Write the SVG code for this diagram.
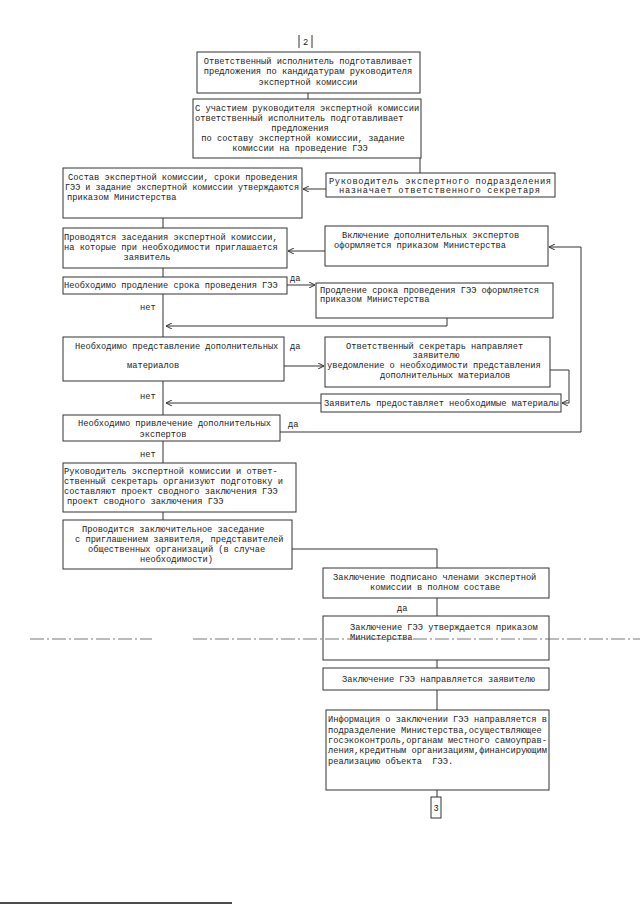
<svg xmlns="http://www.w3.org/2000/svg" width="640" height="905" viewBox="0 0 640 905">
<style>
  .box{fill:#fff;stroke:#333;stroke-width:1}
  .t{font-family:"Liberation Mono","DejaVu Sans Mono",monospace;font-size:8.7px;fill:#222}
  .c{text-anchor:middle}
  .ln{fill:none;stroke:#333;stroke-width:1}
  .dd{fill:none;stroke:#555;stroke-width:0.8;stroke-dasharray:14,3,2,3}
</style>
<defs>
  <marker id="ah" viewBox="0 0 6 6" refX="6" refY="3" markerWidth="6" markerHeight="6" markerUnits="userSpaceOnUse" orient="auto">
    <path d="M0,0 L6,3 L0,6" fill="none" stroke="#333" stroke-width="1"/>
  </marker>
</defs>
<rect width="640" height="905" fill="#fff"/>

<g id="connectors">
  <path class="ln" d="M308,93 V99"/>
  <path class="ln" d="M420,158 V173"/>
  <path class="ln" d="M326,189 H303" marker-end="url(#ah)"/>
  <path class="ln" d="M163,218 V228"/>
  <path class="ln" d="M325,251 H288" marker-end="url(#ah)"/>
  <path class="ln" d="M163,268 V277"/>
  <path class="ln" d="M287,285 H315" marker-end="url(#ah)"/>
  <path class="ln" d="M163,294 V337"/>
  <path class="ln" d="M447,318 V326 H166" marker-end="url(#ah)"/>
  <path class="ln" d="M284,366 H324" marker-end="url(#ah)"/>
  <path class="ln" d="M163,381 V415"/>
  <path class="ln" d="M550,370 H569 V403 H562" marker-end="url(#ah)"/>
  <path class="ln" d="M321,403 H166" marker-end="url(#ah)"/>
  <path class="ln" d="M280,432 H581 V247 H549" marker-end="url(#ah)"/>
  <path class="ln" d="M163,441 V463"/>
  <path class="ln" d="M163,512 V520"/>
  <path class="ln" d="M292,549 H437 V568"/>
  <path class="ln" d="M437,598 V616"/>
  <path class="ln" d="M437,660 V668"/>
  <path class="ln" d="M437,690 V710"/>
  <path class="ln" d="M437,790 V797"/>
  <text class="t" x="290" y="281">да</text>
  <text class="t" x="140" y="310">нет</text>
  <text class="t" x="290" y="349">да</text>
  <text class="t" x="140" y="399">нет</text>
  <text class="t" x="288" y="427">да</text>
  <text class="t" x="140" y="457">нет</text>
  <text class="t" x="397" y="611">да</text>
</g>

<g id="page2">
  <path class="ln" d="M299,35 V48 M312,35 V48"/>
  <text class="t c" x="305.5" y="45">2</text>
</g>

<g id="n1">
  <rect class="box" x="197" y="52" width="223" height="41"/>
  <text class="t c" x="308" y="64">Ответственный исполнитель подготавливает</text>
  <text class="t c" x="308" y="74">предложения по кандидатурам руководителя</text>
  <text class="t c" x="308" y="85">экспертной комиссии</text>
</g>

<g id="n2">
  <rect class="box" x="193" y="99" width="228" height="59"/>
  <text class="t" x="195" y="111">С участием руководителя экспертной комиссии</text>
  <text class="t" x="195" y="121">ответственный исполнитель подготавливает</text>
  <text class="t c" x="300" y="131">предложения</text>
  <text class="t c" x="303" y="141">по составу экспертной комиссии, задание</text>
  <text class="t c" x="300" y="151">комиссии на проведение ГЭЭ</text>
</g>

<g id="n3">
  <rect class="box" x="63" y="168" width="239" height="50"/>
  <text class="t" x="68" y="180">Состав экспертной комиссии, сроки проведения</text>
  <text class="t" x="65" y="190" textLength="234" lengthAdjust="spacingAndGlyphs">ГЭЭ и задание экспертной комиссии утверждаются</text>
  <text class="t" x="67" y="200">приказом Министерства</text>
</g>

<g id="n3r">
  <rect class="box" x="326" y="173" width="229" height="24"/>
  <text class="t" x="329" y="184" textLength="222" lengthAdjust="spacing">Руководитель экспертного подразделения</text>
  <text class="t" x="339" y="193" textLength="201" lengthAdjust="spacing">назначает ответственного секретаря</text>
</g>

<g id="n4">
  <rect class="box" x="63" y="228" width="224" height="40"/>
  <text class="t" x="64" y="240">Проводятся заседания экспертной комиссии,</text>
  <text class="t" x="64" y="250">на которые при необходимости приглашается</text>
  <text class="t c" x="147" y="260">заявитель</text>
</g>

<g id="n4r">
  <rect class="box" x="325" y="226" width="223" height="40"/>
  <text class="t" x="342" y="238">Включение дополнительных экспертов</text>
  <text class="t" x="334" y="248">оформляется приказом Министерства</text>
</g>

<g id="n5">
  <rect class="box" x="63" y="277" width="224" height="17"/>
  <text class="t" x="64" y="288">Необходимо продление срока проведения ГЭЭ</text>
</g>

<g id="n5r">
  <rect class="box" x="316" y="283" width="237" height="35"/>
  <text class="t" x="320" y="293">Продление срока проведения ГЭЭ оформляется</text>
  <text class="t" x="320" y="302">приказом Министерства</text>
</g>

<g id="n6">
  <rect class="box" x="63" y="337" width="221" height="44"/>
  <text class="t" x="75" y="349">Необходимо представление дополнительных</text>
  <text class="t" x="127" y="368">материалов</text>
</g>

<g id="n6r">
  <rect class="box" x="325" y="337" width="225" height="50"/>
  <text class="t" x="346" y="349">Ответственный секретарь направляет</text>
  <text class="t c" x="436" y="358">заявителю</text>
  <text class="t" x="327" y="368">уведомление о необходимости представления</text>
  <text class="t" x="380" y="378">дополнительных материалов</text>
</g>

<g id="n6z">
  <rect class="box" x="321" y="394" width="240" height="18"/>
  <text class="t" x="324" y="406">Заявитель предоставляет необходимые материалы</text>
</g>

<g id="n7">
  <rect class="box" x="63" y="415" width="217" height="26"/>
  <text class="t" x="78" y="426">Необходимо привлечение дополнительных</text>
  <text class="t c" x="163" y="437">экспертов</text>
</g>

<g id="n8">
  <rect class="box" x="63" y="463" width="233" height="49"/>
  <text class="t" x="64" y="474">Руководитель экспертной комиссии и ответ-</text>
  <text class="t" x="64" y="484">ственный секретарь организуют подготовку и</text>
  <text class="t" x="64" y="494">составляют проект сводного заключения ГЭЭ</text>
  <text class="t" x="67" y="504">проект сводного заключения ГЭЭ</text>
</g>

<g id="n9">
  <rect class="box" x="63" y="520" width="229" height="49"/>
  <text class="t" x="82" y="532">Проводится заключительное заседание</text>
  <text class="t" x="75" y="542">с приглашением заявителя, представителей</text>
  <text class="t" x="88" y="552">общественных организаций (в случае</text>
  <text class="t" x="140" y="562">необходимости)</text>
</g>

<g id="n10">
  <rect class="box" x="323" y="568" width="226" height="30"/>
  <text class="t" x="333" y="580">Заключение подписано членами экспертной</text>
  <text class="t" x="370" y="590">комиссии в полном составе</text>
</g>

<g id="n11">
  <rect class="box" x="323" y="616" width="226" height="44"/>
  <text class="t" x="350" y="630">Заключение ГЭЭ утверждается приказом</text>
  <text class="t" x="350" y="640">Министерства</text>
</g>

<g id="n12">
  <rect class="box" x="323" y="668" width="226" height="22"/>
  <text class="t" x="342" y="682">Заключение ГЭЭ направляется заявителю</text>
</g>

<g id="n13">
  <rect class="box" x="326" y="710" width="223" height="80"/>
  <text class="t" x="328" y="722">Информация о заключении ГЭЭ направляется в</text>
  <text class="t" x="328" y="733">подразделение Министерства,осуществляющее</text>
  <text class="t" x="328" y="743">госэкоконтроль,органам местного самоуправ-</text>
  <text class="t" x="328" y="753">ления,кредитным организациям,финансирующим</text>
  <text class="t" x="328" y="764" style="white-space:pre">реализацию объекта  ГЭЭ.</text>
</g>

<g id="page3">
  <rect class="box" x="431" y="797" width="10" height="21"/>
  <text class="t c" x="436" y="811">3</text>
</g>

<path class="dd" d="M30,639 H152 M193,639 H640"/>
<path d="M0,903 H232" stroke="#111" stroke-width="1.5"/>
</svg>
